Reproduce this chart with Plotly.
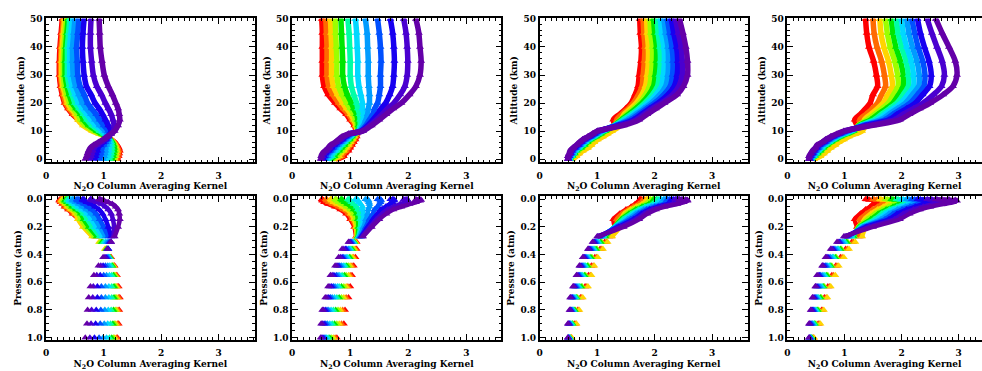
import plotly.graph_objects as go

# ---------------- data ----------------
ALT_KM = [0, 1, 2, 3, 4, 5, 6, 7, 8, 9, 10, 12, 14, 16, 18, 20, 23, 26, 30, 35, 40, 45, 50]
P_ATM = [1.00, 0.90, 0.80, 0.71, 0.63, 0.55, 0.48, 0.42, 0.36, 0.31, 0.27, 0.20, 0.145,
         0.105, 0.075, 0.055, 0.035, 0.022, 0.012, 0.006, 0.003, 0.0015, 0.0007]

CURVE_COLORS = ["#ff0000", "#ff6a00", "#ffd400", "#9cff00", "#00e600", "#00ffa6",
                "#00d8ff", "#009cff", "#0050ff", "#1800f0", "#4a00d0", "#6400a8"]

# rows = levels (same order as ALT_KM / P_ATM), columns = curves (red -> purple)
KERNEL_1 = [
    [1.24, 1.22, 1.19, 1.17, 1.14, 1.10, 1.05, 0.99, 0.92, 0.84, 0.76, 0.68],
    [1.26, 1.24, 1.21, 1.19, 1.16, 1.12, 1.07, 1.01, 0.94, 0.86, 0.78, 0.71],
    [1.27, 1.25, 1.22, 1.20, 1.17, 1.13, 1.08, 1.02, 0.95, 0.87, 0.79, 0.72],
    [1.28, 1.26, 1.23, 1.21, 1.18, 1.14, 1.09, 1.03, 0.96, 0.89, 0.81, 0.74],
    [1.26, 1.24, 1.22, 1.20, 1.18, 1.14, 1.09, 1.03, 0.96, 0.89, 0.82, 0.77],
    [1.23, 1.22, 1.20, 1.19, 1.17, 1.14, 1.10, 1.05, 1.00, 0.94, 0.88, 0.83],
    [1.19, 1.18, 1.17, 1.16, 1.15, 1.13, 1.10, 1.07, 1.03, 0.99, 0.95, 0.91],
    [1.13, 1.12, 1.11, 1.11, 1.11, 1.10, 1.09, 1.08, 1.06, 1.04, 1.02, 0.99],
    [1.05, 1.04, 1.02, 1.04, 1.05, 1.06, 1.07, 1.08, 1.08, 1.08, 1.07, 1.06],
    [0.97, 0.95, 0.92, 0.94, 0.97, 1.00, 1.03, 1.06, 1.09, 1.11, 1.13, 1.13],
    [0.87, 0.85, 0.80, 0.84, 0.88, 0.93, 0.98, 1.03, 1.08, 1.13, 1.17, 1.19],
    [0.70, 0.68, 0.64, 0.69, 0.74, 0.80, 0.86, 0.93, 1.00, 1.08, 1.18, 1.25],
    [0.57, 0.57, 0.55, 0.60, 0.65, 0.71, 0.78, 0.85, 0.93, 1.03, 1.16, 1.28],
    [0.46, 0.48, 0.51, 0.55, 0.60, 0.65, 0.71, 0.78, 0.87, 0.98, 1.13, 1.27],
    [0.38, 0.40, 0.43, 0.47, 0.52, 0.57, 0.63, 0.70, 0.79, 0.92, 1.08, 1.25],
    [0.32, 0.34, 0.37, 0.41, 0.45, 0.50, 0.56, 0.63, 0.72, 0.85, 1.03, 1.21],
    [0.28, 0.30, 0.33, 0.36, 0.40, 0.45, 0.50, 0.57, 0.66, 0.78, 0.96, 1.15],
    [0.25, 0.27, 0.29, 0.32, 0.36, 0.40, 0.45, 0.51, 0.59, 0.70, 0.88, 1.08],
    [0.23, 0.25, 0.27, 0.30, 0.33, 0.37, 0.41, 0.47, 0.55, 0.66, 0.82, 1.01],
    [0.23, 0.25, 0.27, 0.30, 0.33, 0.37, 0.41, 0.46, 0.54, 0.64, 0.79, 0.97],
    [0.24, 0.26, 0.28, 0.31, 0.34, 0.37, 0.41, 0.46, 0.53, 0.63, 0.77, 0.94],
    [0.26, 0.28, 0.30, 0.33, 0.36, 0.39, 0.43, 0.48, 0.55, 0.64, 0.77, 0.93],
    [0.28, 0.30, 0.32, 0.35, 0.38, 0.41, 0.45, 0.50, 0.57, 0.66, 0.78, 0.92],
]

KERNEL_2 = [
    [0.77, 0.74, 0.71, 0.68, 0.65, 0.62, 0.59, 0.57, 0.55, 0.53, 0.51, 0.49],
    [0.89, 0.85, 0.81, 0.77, 0.73, 0.69, 0.65, 0.61, 0.58, 0.55, 0.52, 0.50],
    [0.91, 0.87, 0.83, 0.79, 0.75, 0.71, 0.67, 0.63, 0.60, 0.57, 0.54, 0.52],
    [0.97, 0.93, 0.89, 0.85, 0.81, 0.77, 0.73, 0.69, 0.66, 0.63, 0.60, 0.57],
    [1.00, 0.96, 0.93, 0.89, 0.85, 0.81, 0.78, 0.74, 0.71, 0.68, 0.65, 0.62],
    [1.03, 1.00, 0.97, 0.93, 0.90, 0.86, 0.82, 0.79, 0.76, 0.72, 0.69, 0.66],
    [1.06, 1.03, 1.00, 0.97, 0.94, 0.91, 0.88, 0.85, 0.82, 0.79, 0.77, 0.74],
    [1.09, 1.06, 1.04, 1.01, 0.99, 0.96, 0.94, 0.91, 0.88, 0.86, 0.83, 0.80],
    [1.11, 1.09, 1.07, 1.05, 1.03, 1.01, 0.99, 0.97, 0.94, 0.92, 0.89, 0.86],
    [1.11, 1.10, 1.09, 1.08, 1.07, 1.06, 1.05, 1.03, 1.02, 1.00, 0.98, 0.97],
    [1.10, 1.11, 1.11, 1.12, 1.13, 1.14, 1.15, 1.16, 1.18, 1.19, 1.21, 1.22],
    [1.07, 1.09, 1.10, 1.12, 1.14, 1.17, 1.20, 1.23, 1.27, 1.30, 1.34, 1.37],
    [1.00, 1.03, 1.06, 1.09, 1.13, 1.17, 1.22, 1.27, 1.33, 1.39, 1.45, 1.50],
    [0.93, 0.97, 1.01, 1.06, 1.11, 1.16, 1.23, 1.30, 1.39, 1.47, 1.55, 1.62],
    [0.83, 0.88, 0.94, 1.00, 1.06, 1.13, 1.21, 1.31, 1.42, 1.53, 1.64, 1.74],
    [0.74, 0.80, 0.87, 0.94, 1.02, 1.11, 1.21, 1.33, 1.47, 1.61, 1.75, 1.88],
    [0.62, 0.70, 0.78, 0.86, 0.95, 1.06, 1.18, 1.33, 1.50, 1.68, 1.86, 2.02],
    [0.55, 0.63, 0.71, 0.80, 0.90, 1.02, 1.15, 1.32, 1.52, 1.73, 1.94, 2.13],
    [0.52, 0.60, 0.68, 0.77, 0.87, 1.00, 1.13, 1.31, 1.52, 1.75, 1.98, 2.20],
    [0.52, 0.60, 0.68, 0.77, 0.87, 1.00, 1.13, 1.31, 1.53, 1.76, 1.99, 2.22],
    [0.52, 0.60, 0.68, 0.76, 0.86, 0.99, 1.12, 1.30, 1.52, 1.75, 1.98, 2.20],
    [0.52, 0.59, 0.67, 0.75, 0.85, 0.98, 1.11, 1.29, 1.50, 1.73, 1.96, 2.18],
    [0.51, 0.58, 0.66, 0.74, 0.84, 0.96, 1.09, 1.26, 1.47, 1.69, 1.92, 2.13],
]

KERNEL_3 = [
    [0.55, 0.55, 0.56, 0.53, 0.53, 0.52, 0.52, 0.51, 0.50, 0.50, 0.49, 0.49],
    [0.61, 0.63, 0.64, 0.58, 0.57, 0.56, 0.54, 0.53, 0.52, 0.51, 0.50, 0.49],
    [0.66, 0.67, 0.69, 0.62, 0.61, 0.59, 0.58, 0.57, 0.55, 0.54, 0.53, 0.52],
    [0.71, 0.73, 0.75, 0.66, 0.64, 0.63, 0.61, 0.59, 0.57, 0.56, 0.54, 0.53],
    [0.79, 0.82, 0.84, 0.74, 0.72, 0.69, 0.67, 0.65, 0.63, 0.61, 0.59, 0.58],
    [0.85, 0.88, 0.90, 0.80, 0.78, 0.75, 0.73, 0.71, 0.69, 0.67, 0.65, 0.64],
    [0.90, 0.93, 0.95, 0.85, 0.83, 0.80, 0.78, 0.76, 0.74, 0.72, 0.70, 0.69],
    [0.96, 0.99, 1.01, 0.91, 0.89, 0.86, 0.84, 0.82, 0.80, 0.78, 0.76, 0.75],
    [1.05, 1.08, 1.10, 1.00, 0.98, 0.95, 0.93, 0.91, 0.89, 0.87, 0.85, 0.84],
    [1.13, 1.16, 1.18, 1.08, 1.06, 1.03, 1.01, 0.99, 0.97, 0.95, 0.93, 0.92],
    [1.21, 1.24, 1.26, 1.16, 1.14, 1.11, 1.09, 1.07, 1.05, 1.03, 1.01, 1.00],
    [1.30, 1.35, 1.40, 1.30, 1.30, 1.30, 1.31, 1.32, 1.34, 1.37, 1.41, 1.46],
    [1.28, 1.34, 1.42, 1.40, 1.42, 1.45, 1.49, 1.53, 1.58, 1.63, 1.68, 1.73],
    [1.39, 1.43, 1.47, 1.51, 1.55, 1.59, 1.63, 1.67, 1.72, 1.77, 1.82, 1.87],
    [1.50, 1.54, 1.58, 1.63, 1.67, 1.72, 1.76, 1.81, 1.86, 1.91, 1.96, 2.02],
    [1.59, 1.63, 1.68, 1.73, 1.78, 1.83, 1.88, 1.94, 2.00, 2.06, 2.12, 2.17],
    [1.66, 1.72, 1.78, 1.84, 1.90, 1.96, 2.02, 2.09, 2.16, 2.23, 2.31, 2.39],
    [1.71, 1.78, 1.84, 1.91, 1.98, 2.05, 2.12, 2.19, 2.27, 2.34, 2.42, 2.50],
    [1.73, 1.80, 1.87, 1.94, 2.01, 2.08, 2.15, 2.23, 2.31, 2.39, 2.48, 2.57],
    [1.76, 1.82, 1.89, 1.96, 2.03, 2.10, 2.17, 2.24, 2.32, 2.40, 2.48, 2.57],
    [1.77, 1.83, 1.89, 1.96, 2.03, 2.09, 2.16, 2.23, 2.30, 2.38, 2.46, 2.54],
    [1.75, 1.81, 1.87, 1.93, 2.00, 2.06, 2.12, 2.19, 2.26, 2.33, 2.41, 2.49],
    [1.74, 1.80, 1.86, 1.92, 1.98, 2.04, 2.10, 2.16, 2.22, 2.29, 2.36, 2.43],
]

KERNEL_4 = [
    [0.45, 0.46, 0.47, 0.43, 0.43, 0.42, 0.41, 0.41, 0.40, 0.39, 0.38, 0.38],
    [0.54, 0.56, 0.58, 0.50, 0.48, 0.47, 0.45, 0.44, 0.42, 0.40, 0.39, 0.38],
    [0.60, 0.62, 0.64, 0.55, 0.53, 0.51, 0.49, 0.47, 0.46, 0.44, 0.42, 0.41],
    [0.65, 0.68, 0.70, 0.60, 0.58, 0.55, 0.53, 0.51, 0.49, 0.47, 0.45, 0.44],
    [0.71, 0.74, 0.76, 0.65, 0.63, 0.61, 0.59, 0.57, 0.54, 0.52, 0.50, 0.49],
    [0.78, 0.81, 0.84, 0.71, 0.69, 0.66, 0.64, 0.61, 0.58, 0.56, 0.54, 0.52],
    [0.85, 0.87, 0.90, 0.78, 0.76, 0.74, 0.71, 0.69, 0.67, 0.64, 0.62, 0.61],
    [0.93, 0.96, 0.99, 0.86, 0.84, 0.81, 0.79, 0.76, 0.73, 0.71, 0.69, 0.67],
    [1.02, 1.05, 1.08, 0.95, 0.93, 0.90, 0.88, 0.85, 0.82, 0.80, 0.78, 0.76],
    [1.13, 1.16, 1.19, 1.06, 1.04, 1.01, 0.99, 0.96, 0.93, 0.91, 0.89, 0.87],
    [1.25, 1.28, 1.31, 1.18, 1.16, 1.13, 1.11, 1.08, 1.05, 1.03, 1.01, 0.99],
    [1.22, 1.28, 1.36, 1.24, 1.26, 1.28, 1.30, 1.32, 1.35, 1.38, 1.44, 1.50],
    [1.18, 1.27, 1.35, 1.40, 1.46, 1.52, 1.58, 1.64, 1.71, 1.78, 1.88, 1.97],
    [1.28, 1.38, 1.46, 1.53, 1.59, 1.65, 1.71, 1.78, 1.85, 1.92, 2.03, 2.14],
    [1.37, 1.49, 1.58, 1.66, 1.73, 1.79, 1.86, 1.93, 2.01, 2.09, 2.21, 2.32],
    [1.45, 1.58, 1.68, 1.77, 1.85, 1.92, 1.99, 2.07, 2.15, 2.24, 2.38, 2.50],
    [1.50, 1.65, 1.76, 1.86, 1.95, 2.03, 2.11, 2.19, 2.28, 2.37, 2.56, 2.73],
    [1.58, 1.72, 1.84, 1.94, 2.03, 2.12, 2.21, 2.30, 2.39, 2.49, 2.70, 2.90],
    [1.56, 1.70, 1.82, 1.93, 2.03, 2.12, 2.21, 2.31, 2.41, 2.52, 2.75, 2.97],
    [1.51, 1.65, 1.77, 1.88, 1.98, 2.08, 2.17, 2.27, 2.37, 2.48, 2.71, 2.94],
    [1.43, 1.57, 1.69, 1.80, 1.90, 2.00, 2.09, 2.19, 2.29, 2.40, 2.62, 2.83],
    [1.39, 1.52, 1.64, 1.75, 1.85, 1.94, 2.03, 2.13, 2.23, 2.33, 2.53, 2.71],
    [1.37, 1.50, 1.62, 1.72, 1.82, 1.91, 2.00, 2.09, 2.18, 2.28, 2.45, 2.60],
]

PANELS = [KERNEL_1, KERNEL_2, KERNEL_3, KERNEL_4]
X_TICKS = [0, 1, 2, 3]
ALT_TICKS = [0, 10, 20, 30, 40, 50]
P_TICKS = [0.0, 0.2, 0.4, 0.6, 0.8, 1.0]
X_TITLE = "<b>N<sub>2</sub>O Column Averaging Kernel</b>"
ALT_TITLE = "<b>Altitude (km)</b>"
P_TITLE = "<b>Pressure (atm)</b>"
BAND_FROM_KM = 10   # in the pressure panels the upper levels merge into a band

# ---------------- layout geometry (pixels) ----------------
W, H = 982, 371
COL_X0 = [43.3, 290.0, 538.3, 786.7]
COL_X1 = [252.3, 500.0, 747.0, 982.0]
PX_PER_UNIT = [57.7, 58.3, 57.7, 57.3]
ROW_TOP = [14.7, 195.7]
ROW_BOT = [161.3, 342.3]

TICK_FONT = dict(family="DejaVu Serif", size=9, color="black", weight="bold")
TITLE_FONT = dict(family="DejaVu Serif", size=9, color="black")

fig = go.Figure()

band_idx = [i for i, z in enumerate(ALT_KM) if z >= BAND_FROM_KM]
for c, table in enumerate(PANELS):
    curves = list(zip(*table))
    for j, vals in enumerate(curves):
        col = CURVE_COLORS[j]
        fig.add_trace(go.Scatter(
            x=list(vals), y=ALT_KM, mode="lines+markers",
            xaxis=f"x{c+1}", yaxis=f"y{c+1}",
            line=dict(color=col, width=5.5, shape="spline", smoothing=0.8),
            marker=dict(symbol="triangle-up", size=7, color=col, line=dict(width=0)),
            showlegend=False, hoverinfo="skip"))
        fig.add_trace(go.Scatter(
            x=[vals[i] for i in band_idx], y=[P_ATM[i] for i in band_idx], mode="lines",
            xaxis=f"x{c+5}", yaxis=f"y{c+5}",
            line=dict(color=col, width=4.5, shape="spline", smoothing=0.6),
            showlegend=False, hoverinfo="skip"))
        fig.add_trace(go.Scatter(
            x=list(vals), y=P_ATM, mode="markers",
            xaxis=f"x{c+5}", yaxis=f"y{c+5}",
            marker=dict(symbol="triangle-up", size=7, color=col, line=dict(width=0)),
            showlegend=False, hoverinfo="skip"))

layout = dict(width=W, height=H, margin=dict(l=0, r=0, t=0, b=0),
              paper_bgcolor="white", plot_bgcolor="white", showlegend=False,
              font=dict(family="DejaVu Serif", size=9, color="black"))
for i in range(8):
    r, c = divmod(i, 4)
    k = i + 1
    x0, x1 = COL_X0[c], COL_X1[c]
    xrange_max = (x1 - x0) / PX_PER_UNIT[c]
    axis_common = dict(showgrid=False, zeroline=False, showline=True, linecolor="black",
                       linewidth=1.5, ticks="inside", ticklen=6, tickwidth=1.2,
                       tickcolor="black", tickfont=TICK_FONT)
    layout[f"xaxis{k}"] = dict(
        domain=[x0 / W, x1 / W], range=[0, xrange_max], anchor=f"y{k}",
        tickvals=X_TICKS, ticktext=[str(v) for v in X_TICKS], mirror="ticks",
        ticklabelstandoff=4,
        title=dict(text=X_TITLE, font=TITLE_FONT, standoff=3),
        minor=dict(ticks="inside", ticklen=3, tickwidth=1, tickcolor="black", dtick=0.1, tick0=0),
        **axis_common)
    if r == 0:
        yr = [-1.15, 50.2]
        tv, tt = ALT_TICKS, [str(v) for v in ALT_TICKS]
        mdt = 2
        ytitle = ALT_TITLE
    else:
        yr = [1.016, -0.023]
        tv, tt = P_TICKS, [f"{v:.1f}" for v in P_TICKS]
        mdt = 0.05
        ytitle = P_TITLE
    layout[f"yaxis{k}"] = dict(
        domain=[1 - ROW_BOT[r] / H, 1 - ROW_TOP[r] / H], range=yr, anchor=f"x{k}",
        tickvals=tv, ticktext=tt, mirror=("ticks" if c < 3 else False),
        title=dict(text=ytitle, font=TITLE_FONT, standoff=4),
        minor=dict(ticks="inside", ticklen=3, tickwidth=1, tickcolor="black", dtick=mdt, tick0=0),
        **axis_common)
fig.update_layout(**layout)

fig.write_html("out.html")
